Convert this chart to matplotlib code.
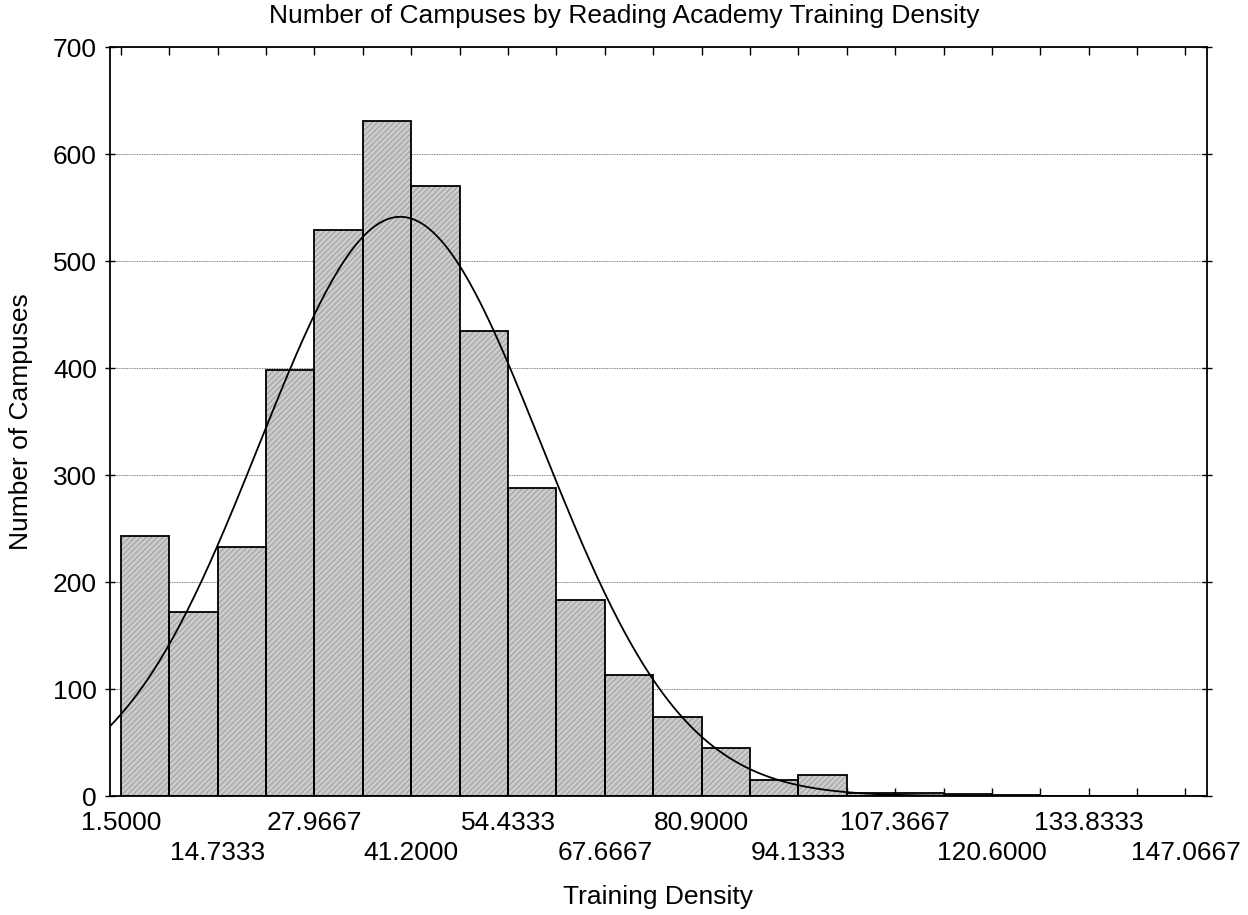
import numpy as np
import matplotlib.pyplot as plt

# datos del histograma
bin_start = 1.5
bin_width = 6.616667
counts = [243, 172, 233, 398, 529, 631, 570, 435, 288, 183, 113,
          74, 45, 15, 20, 3, 3, 2, 1, 0, 0, 0]
tick_labels = ['1.5000', '14.7333', '27.9667', '41.2000', '54.4333', '67.6667',
               '80.9000', '94.1333', '107.3667', '120.6000', '133.8333', '147.0667']

# curva normal ajustada
fit_mean = 39.7
fit_sd = 19.3

plt.rcParams['font.family'] = ['Liberation Sans', 'DejaVu Sans']
fs = 19

fig = plt.figure(figsize=(12.48, 9.15), dpi=100)
ax = fig.add_axes([0.0881, 0.130, 0.8790, 0.8186])

edges = bin_start + bin_width * np.arange(len(counts) + 1)
lefts = edges[:-1]

# relleno gris con rayado fino, luego el contorno negro
ax.bar(lefts, counts, width=bin_width, align='edge', color='#cdcdcd',
       edgecolor='#a8a8a8', hatch='//////', linewidth=0, zorder=2)
ax.bar(lefts, counts, width=bin_width, align='edge', fill=False,
       edgecolor='black', linewidth=1.3, zorder=3)

n_total = sum(counts)
xs = np.linspace(0, 150, 600)
ys = n_total * bin_width / (fit_sd * np.sqrt(2 * np.pi)) * np.exp(-0.5 * ((xs - fit_mean) / fit_sd) ** 2)
ax.plot(xs, ys, color='black', linewidth=1.3, zorder=4)

ax.set_xlim(0, 150)
ax.set_ylim(0, 700)
ax.set_yticks(np.arange(0, 701, 100))
ax.grid(True, axis='y', linestyle=(0, (1, 1)), color='#555555', linewidth=0.6, zorder=1)
ax.set_axisbelow(True)

# etiquetas en dos filas: fila de arriba = ticks mayores, fila de abajo = menores
major_pos = edges[0::4]
major_lab = tick_labels[0::2]
minor_pos = [e for i, e in enumerate(edges) if i % 4 != 0]
minor_lab = []
for i in range(len(edges)):
    if i % 4 == 0:
        continue
    minor_lab.append(tick_labels[i // 2] if i % 4 == 2 else '')
ax.set_xticks(major_pos)
ax.set_xticklabels(major_lab, fontsize=fs)
ax.set_xticks(minor_pos, minor=True)
ax.set_xticklabels(minor_lab, minor=True, fontsize=fs)
ax.tick_params(axis='x', which='major', direction='in', length=6, width=1, top=True, pad=11)
ax.tick_params(axis='x', which='minor', direction='in', length=6, width=1, top=True, pad=32.5)
ax.tick_params(axis='y', direction='inout', length=7, width=1, right=True, labelsize=fs, pad=6)
for s in ax.spines.values():
    s.set_linewidth(1.3)

fig.text(0.5, 1 - 16 / 915, 'Number of Campuses by Reading Academy Training Density',
         fontsize=fs, ha='center', va='center')
ax.set_xlabel('Training Density', fontsize=fs, labelpad=14)
ax.set_ylabel('Number of Campuses', fontsize=fs, labelpad=14)

fig.savefig('out.png', dpi=100)
